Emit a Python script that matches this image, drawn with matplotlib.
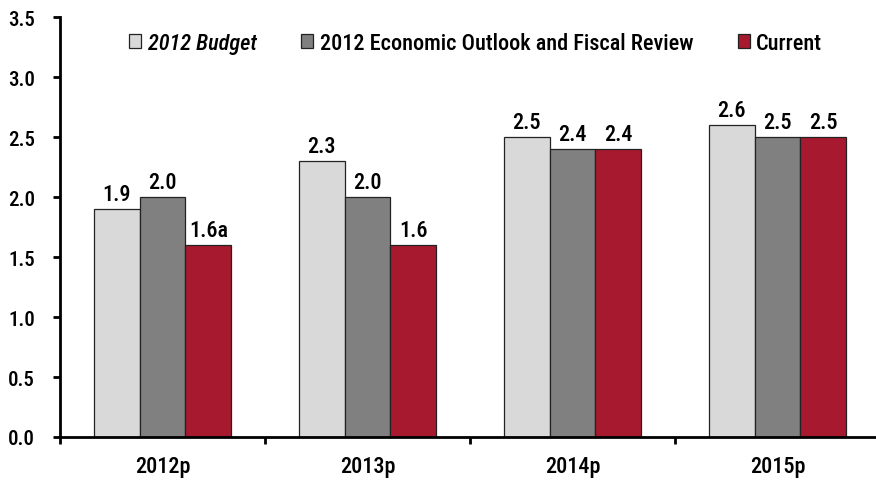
import numpy as np
import matplotlib
matplotlib.use("Agg")
import matplotlib.pyplot as plt
from matplotlib.patches import Patch

plt.rcParams['font.family'] = ['Roboto Condensed', 'Archivo Narrow', 'PT Sans Narrow', 'Liberation Sans', 'DejaVu Sans']
plt.rcParams['font.weight'] = 'medium'

categories = ["2012p", "2013p", "2014p", "2015p"]
budget = [1.9, 2.3, 2.5, 2.6]
outlook = [2.0, 2.0, 2.4, 2.5]
current = [1.6, 1.6, 2.4, 2.5]
current_labels = ["1.6a", "1.6", "2.4", "2.5"]
series_names = ["2012 Budget", "2012 Economic Outlook and Fiscal Review", "Current"]
colors = ["#d9d9d9", "#808080", "#a6192e"]

fig = plt.figure(figsize=(8.76, 4.85), dpi=100)
ax = fig.add_axes([60 / 876, 47 / 485, 820 / 876, 420 / 485])

x = np.arange(len(categories))
w = 0.224
for i, (vals, col) in enumerate(zip([budget, outlook, current], colors)):
    pos = x + (i - 1) * w
    ax.bar(pos, vals, w, color=col, edgecolor="#222222", linewidth=0.9)
    labels = current_labels if i == 2 else ["%.1f" % v for v in vals]
    for px, v, lab in zip(pos, vals, labels):
        ax.annotate(lab, (px, v), xytext=(0, 3), textcoords="offset points",
                    ha="center", va="bottom", fontsize=16, fontweight="medium")

ax.set_xlim(-0.5, len(categories) - 0.5)
ax.set_ylim(0, 3.5)
yt = np.arange(0, 3.51, 0.5)
ax.set_yticks(yt)
ax.set_yticklabels(["%.1f" % t for t in yt], fontsize=15, fontweight="medium")
ax.set_xticks(x)
ax.set_xticklabels(categories, fontsize=16, fontweight="medium")
ax.set_xticks(np.arange(-0.5, len(categories), 1), minor=True)
ax.tick_params(axis="x", which="major", length=0, pad=13)
ax.tick_params(axis="x", which="minor", length=5, width=2, direction="out")
ax.tick_params(axis="y", length=5, width=2, direction="out", pad=13)
for s in ["top", "right"]:
    ax.spines[s].set_visible(False)
for s in ["left", "bottom"]:
    ax.spines[s].set_linewidth(2)

handles = [Patch(facecolor=c, edgecolor="#222222", linewidth=0.9) for c in colors]
leg = ax.legend(handles, series_names, loc="center left", ncol=3, frameon=False,
                bbox_to_anchor=(109 / 876, 1 - 44 / 485), bbox_transform=fig.transFigure,
                prop={"size": 16, "weight": "medium"}, handlelength=0.56, handleheight=0.56,
                handletextpad=0.28, columnspacing=2.0)
leg.get_texts()[0].set_fontstyle("italic")

fig.savefig("out.png", dpi=100)
